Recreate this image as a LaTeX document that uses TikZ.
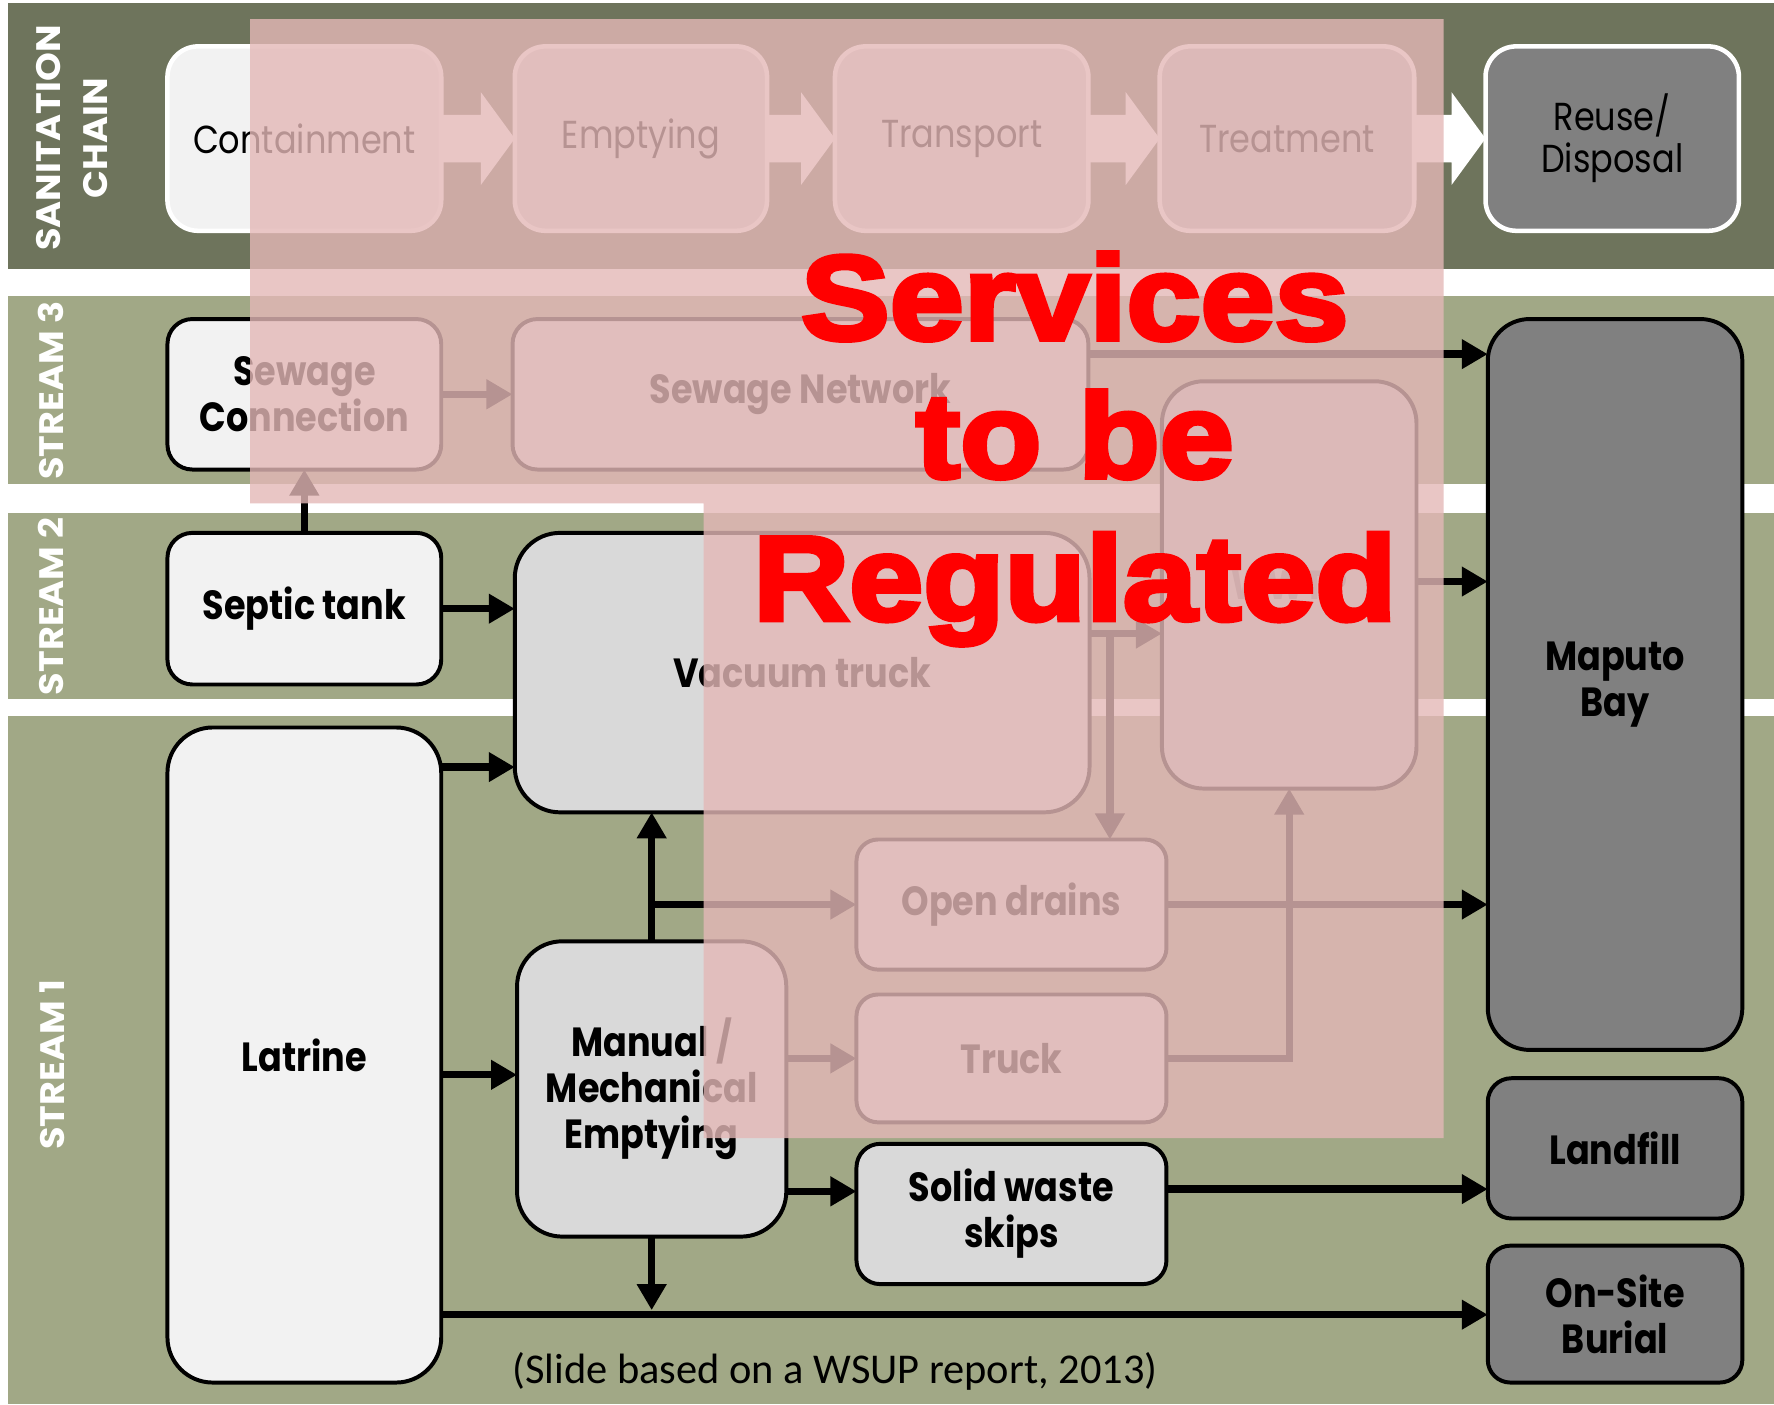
\documentclass[tikz,border=0pt]{standalone}
\usepackage{fontspec}
\usetikzlibrary{arrows.meta,calc}
\newfontfamily\boxfont{Poppins}[FakeStretch=0.86]
\newfontfamily\bandfont{Poppins}[FakeStretch=1.08]
\newfontfamily\capfont{Carlito}
\newfontfamily\redfont{Liberation Sans}[BoldFeatures={FakeBold=4,FakeStretch=1.11}]
\definecolor{darkol}{RGB}{110,116,92}
\definecolor{lightol}{RGB}{161,168,134}
\definecolor{cA}{HTML}{F2F2F2}
\definecolor{cB}{HTML}{D9D9D9}
\definecolor{cC}{HTML}{BFBFBF}
\definecolor{cD}{HTML}{808080}
\definecolor{pinkov}{RGB}{228,184,183}
\newcommand\blkarrow[2]{%
 \fill[white] let \p1=(#1.east), \p2=(#2.west) in
 (\x1,{\y1+21pt}) -- ({\x2-30pt},{\y1+21pt}) -- ({\x2-30pt},{\y1+41pt}) -- (\x2,\y1)
 -- ({\x2-30pt},{\y1-41pt}) -- ({\x2-30pt},{\y1-21pt}) -- (\x1,{\y1-21pt}) -- cycle;}
\tikzset{
 chainbox/.style={draw=white, line width=4pt, inner sep=0pt, outer sep=0pt, align=center,
   rounded corners=27pt, minimum height=163pt,
   font=\boxfont\fontsize{34.5}{37}\selectfont},
 flowbox/.style={draw=black, line width=3.5pt, inner sep=0pt, outer sep=0pt, align=center,
   font=\boxfont\bfseries\fontsize{36}{40.5}\selectfont},
 conn/.style={line width=6.5pt, -{Triangle[length=23pt,width=25pt]}},
 bandlbl/.style={text=white, rotate=90, align=center, inner sep=0pt,
   font=\bandfont\bfseries\fontsize{30}{41}\selectfont},
 redtxt/.style={text=red, inner sep=0pt, font=\redfont\bfseries\fontsize{106}{120}\selectfont},
}
\begin{document}
\begin{tikzpicture}[x=1pt,y=-1pt]
\useasboundingbox (0,0) rectangle (1568,1241);
\fill[white] (0,0) rectangle (1568,1241);
% bands
\fill[darkol] (7,3) rectangle (1568,238);
\fill[lightol] (7,262) rectangle (1568,428);
\fill[lightol] (7,453) rectangle (1568,618);
\fill[lightol] (7,633) rectangle (1568,1241);
\node[bandlbl] (lsc) at (63.5,122) {SANITATION\\CHAIN};
\node[bandlbl] (ls3) at (45,345) {STREAM 3};
\node[bandlbl] (ls2) at (45,536) {STREAM 2};
\node[bandlbl] (ls1) at (46,941) {STREAM 1};
% chain row
\node[chainbox, fill=cA, minimum width=242pt] (cont) at (269,122.5) {Containment};
\node[chainbox, fill=cB, minimum width=223pt] (empt) at (566.5,122.5) {Emptying};
\node[chainbox, fill=cB, minimum width=224pt] (trans) at (850,122.5) {Transport};
\node[chainbox, fill=cC, minimum width=225pt] (treat) at (1137.5,122.5) {Treatment};
\node[chainbox, fill=cD, minimum width=224pt] (reuse) at (1425,122.5) {Reuse/\\Disposal};
\blkarrow{cont}{empt}
\blkarrow{empt}{trans}
\blkarrow{trans}{treat}
\blkarrow{treat}{reuse}
% flow boxes
\node[flowbox, fill=cA, minimum width=242pt, minimum height=133pt, rounded corners=22pt] (sewc) at (269,348.5) {Sewage\\Connection};
\node[flowbox, fill=cB, minimum width=509pt, minimum height=133pt, rounded corners=22pt] (sewn) at (707.5,348.5) {Sewage Network};
\node[flowbox, fill=cA, minimum width=242pt, minimum height=134pt, rounded corners=22pt] (sept) at (269,538) {Septic tank};
\node[flowbox, fill=cB, minimum width=508pt, minimum height=247pt, rounded corners=40pt] (vac) at (709,594.5) {Vacuum truck};
\node[flowbox, fill=cC, minimum width=225pt, minimum height=360pt, rounded corners=37pt, text=cD] (trt) at (1139.5,517) {WWTP};
\node[flowbox, fill=cD, minimum width=225pt, minimum height=646pt, rounded corners=37pt] (mapu) at (1427.5,605) {Maputo\\Bay};
\node[flowbox, fill=cA, minimum width=242pt, minimum height=579pt, rounded corners=40pt] (lat) at (269,932.5) {Latrine};
\node[flowbox, fill=cB, minimum width=238pt, minimum height=261pt, rounded corners=40pt] (man) at (576,962.5) {Manual /\\Mechanical\\Emptying};
\node[flowbox, fill=cB, minimum width=274pt, minimum height=115pt, rounded corners=19pt] (odr) at (894,799.5) {Open drains};
\node[flowbox, fill=cB, minimum width=274pt, minimum height=113pt, rounded corners=19pt] (trk) at (894,935.5) {Truck};
\node[flowbox, fill=cB, minimum width=274pt, minimum height=124pt, rounded corners=21pt] (skp) at (894,1073) {Solid waste\\skips};
\node[flowbox, fill=cD, minimum width=225pt, minimum height=124pt, rounded corners=21pt] (land) at (1427.5,1015) {Landfill};
\node[flowbox, fill=cD, minimum width=225pt, minimum height=121pt, rounded corners=20pt] (bur) at (1427.5,1161.5) {On-Site\\Burial};
% helper coordinates
\coordinate (y313) at (0,313);
\coordinate (y514) at (0,514);
\coordinate (y560) at (0,560);
\coordinate (y678) at (0,678);
\coordinate (y950) at (0,950);
\coordinate (y1053) at (0,1053);
\coordinate (y1051) at (0,1051);
\coordinate (y1162) at (0,1162);
\coordinate (y1158) at (0,1158);
\coordinate (j1) at (981,560);
% connectors
\draw[conn] (sept.north) -- (sewc.south);
\draw[conn] (sewc.east) -- (sewn.west);
\draw[conn] (sewn.east |- y313) -- (mapu.west |- y313);
\draw[conn] (sept.east) -- (vac.west |- sept.east);
\draw[conn] (lat.east |- y678) -- (vac.west |- y678);
\draw[conn] (lat.east |- y950) -- (man.west |- y950);
\draw[conn] (man.north) -- (man.north |- vac.south);
\draw[conn] (man.north |- odr.west) -- (odr.west);
\draw[conn] (man.east |- trk.west) -- (trk.west);
\draw[conn] (man.east |- y1053) -- (skp.west |- y1053);
\draw[conn] (skp.east |- y1051) -- (land.west |- y1051);
\draw[conn] (lat.east |- y1162) -- (bur.west |- y1162);
\draw[conn] (man.south) -- (man.south |- y1158);
\draw[conn] (odr.east) -- (mapu.west |- odr.east);
\draw[conn] (trk.east) -| (trt.south);
\draw[conn] (vac.east |- y560) -- (trt.west |- y560);
\draw[conn] (j1) -- (j1 |- odr.north);
\draw[conn] (trt.east |- y514) -- (mapu.west |- y514);
% caption
\node[font=\capfont\fontsize{37.5}{42}\selectfont, inner sep=0pt] (cap) at (738,1212) {(Slide based on a WSUP report, 2013)};
% overlay
\fill[pinkov, fill opacity=0.8] (221,17) -- (1276,17) -- (1276,1006) -- (622,1006) -- (622,445) -- (221,445) -- cycle;
% red text
\node[redtxt, anchor=base] (t1) at (950,300) {Services};
\node[redtxt, anchor=base] (t2) at (950,422) {to be};
\node[redtxt, anchor=base] (t3) at (950,548) {Regulated};
\end{tikzpicture}
\end{document}
